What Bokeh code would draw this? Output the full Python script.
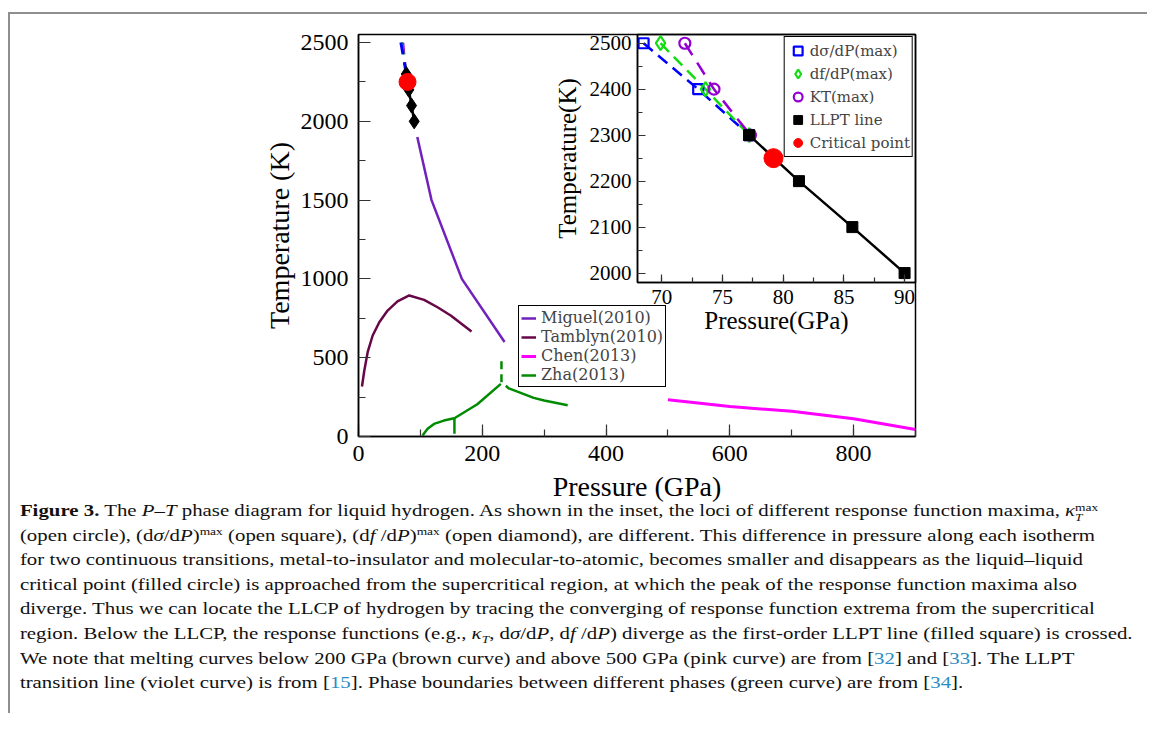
from bokeh.plotting import figure
from bokeh.models import (GridBox, Column, Div, Legend, LegendItem,
                          SingleIntervalTicker, Range1d)
from bokeh.embed import file_html
from bokeh.resources import INLINE

FONT = "Liberation Serif"
LFONT = "DejaVu Serif"

# ---------------- data (main panel) ----------------
miguel_p = [95, 118, 167, 236]
miguel_t = [1900, 1500, 1000, 600]

tamblyn_p = [5.6, 9.4, 14.8, 22.9, 33.6, 47, 63, 82, 106, 127.7, 149, 182.6]
tamblyn_t = [317, 419, 535, 641, 725, 799, 858, 895, 867, 820, 768, 666]

chen_p = [500, 600, 700, 800, 900]
chen_t = [233, 190, 160, 112, 45]

zha1_p = [103.5, 111.6, 122, 138, 154.5]
zha1_t = [6, 49, 80, 101, 116]
zha2_p = [155, 155]
zha2_t = [18, 120]
zha3_p = [155, 192, 230]
zha3_t = [116, 205, 334]
zha4_p = [231, 231]
zha4_t = [345, 505]
zha5_p = [238, 243, 260, 283, 300, 338]
zha5_t = [322, 305, 280, 245, 228, 198]

# ---------------- data (inset) ----------------
ds_p = [68.5, 73.0, 77.2]
ds_t = [2500, 2400, 2300]
df_p = [69.9, 73.6, 77.2]
df_t = [2500, 2400, 2300]
kt_p = [71.9, 74.3, 77.3]
kt_t = [2500, 2400, 2300]
llpt_p = [77.2, 81.3, 85.7, 90.0]
llpt_t = [2300, 2200, 2100, 2000]
cp_p = [79.2]
cp_t = [2250]

C_MIG = "#7221bc"
C_TAM = "#670748"
C_CHEN = "#ff00ff"
C_ZHA = "#008b00"
C_BLUE = "#0000ff"
C_GREEN = "#11dd11"
C_VIOLET = "#9400d3"


def style(p, tick_size, label_size, maj_in, min_in):
    for ax in p.axis:
        ax.axis_line_width = 1.5
        ax.axis_line_color = "black"
        ax.major_tick_in = maj_in
        ax.major_tick_out = 0
        ax.minor_tick_in = min_in
        ax.minor_tick_out = 0
        ax.major_tick_line_color = "#333333"
        ax.minor_tick_line_color = "#333333"
        ax.major_tick_line_width = 1.2
        ax.minor_tick_line_width = 1.2
        ax.major_label_text_font = FONT
        ax.major_label_text_font_size = tick_size
        ax.major_label_text_color = "black"
        ax.axis_label_text_font = FONT
        ax.axis_label_text_font_size = label_size
        ax.axis_label_text_font_style = "normal"
        ax.axis_label_text_color = "black"
    p.grid.visible = False
    p.outline_line_color = "black"
    p.outline_line_width = 1.5
    p.outline_line_alpha = 1


# ---------------- main figure ----------------
main = figure(width=916, height=502, x_range=Range1d(0, 900), y_range=Range1d(0, 2551),
              output_backend="svg", toolbar_location=None,
              min_border_left=348, min_border_right=10, min_border_top=20, min_border_bottom=80)
main.xaxis.ticker = SingleIntervalTicker(interval=200, num_minor_ticks=2)
main.yaxis.ticker = SingleIntervalTicker(interval=500, num_minor_ticks=2)
main.xaxis.axis_label = "Pressure (GPa)"
main.yaxis.axis_label = "Temperature (K)"
style(main, "24px", "28px", 12, 7)
main.xaxis.major_label_standoff = 9
main.xaxis.axis_label_standoff = 7
main.yaxis.major_label_standoff = 10
main.yaxis.axis_label_standoff = 3

r_mig = main.line(miguel_p, miguel_t, line_color=C_MIG, line_width=2.5)
r_tam = main.line(tamblyn_p, tamblyn_t, line_color=C_TAM, line_width=2.5)
r_chen = main.line(chen_p, chen_t, line_color=C_CHEN, line_width=3)
r_zha = main.line(zha1_p, zha1_t, line_color=C_ZHA, line_width=2.5)
main.line(zha2_p, zha2_t, line_color=C_ZHA, line_width=2.5)
main.line(zha3_p, zha3_t, line_color=C_ZHA, line_width=2.5)
main.line(zha4_p, zha4_t, line_color=C_ZHA, line_width=2.5, line_dash="8 5")
main.line(zha5_p, zha5_t, line_color=C_ZHA, line_width=2.5)

main.line(kt_p, kt_t, line_color=C_VIOLET, line_width=2.5, line_dash="12 8")
main.line(df_p, df_t, line_color=C_GREEN, line_width=2.5, line_dash="12 8")
main.line(ds_p, ds_t, line_color=C_BLUE, line_width=3, line_dash="12 8")
main.line(llpt_p, llpt_t, line_color="black", line_width=2.5)
main.scatter(llpt_p, llpt_t, marker="diamond", size=15, fill_color="black", line_color="black")
main.scatter(cp_p, cp_t, marker="circle", size=17, fill_color="#ff0000", line_color="#ff0000")

leg = Legend(items=[LegendItem(label="Miguel(2010)", renderers=[r_mig]),
                    LegendItem(label="Tamblyn(2010)", renderers=[r_tam]),
                    LegendItem(label="Chen(2013)", renderers=[r_chen]),
                    LegendItem(label="Zha(2013)", renderers=[r_zha])],
             location=(160, 49), label_text_font=LFONT, label_text_font_size="16px",
             glyph_width=15, glyph_height=18, label_height=18, spacing=0, padding=2,
             label_standoff=5, border_line_color="black", border_line_width=1.5,
             border_line_alpha=1, background_fill_alpha=1, margin=0)
main.add_layout(leg)

# ---------------- inset ----------------
inset = figure(width=378, height=326, x_range=Range1d(68.0, 90.9), y_range=Range1d(1979.5, 2519),
               output_backend="svg", toolbar_location=None,
               min_border_left=89, min_border_right=11, min_border_top=20, min_border_bottom=58)
inset.background_fill_alpha = 0
inset.border_fill_alpha = 0
inset.xaxis.ticker = SingleIntervalTicker(interval=5, num_minor_ticks=2)
inset.yaxis.ticker = SingleIntervalTicker(interval=100, num_minor_ticks=2)
inset.xaxis.axis_label = "Pressure(GPa)"
inset.yaxis.axis_label = "Temperature(K)"
style(inset, "21px", "25px", 8, 5)
inset.xaxis.major_label_standoff = 7
inset.xaxis.axis_label_standoff = 0
inset.yaxis.major_label_standoff = 6
inset.yaxis.axis_label_standoff = 6

inset.line(ds_p, ds_t, line_color=C_BLUE, line_width=2.5, line_dash="12 7")
inset.line(df_p, df_t, line_color=C_GREEN, line_width=2.5, line_dash="12 7")
inset.line(kt_p, kt_t, line_color=C_VIOLET, line_width=2.5, line_dash="14 9")
inset.line(llpt_p, llpt_t, line_color="black", line_width=2.5)
s_ds = inset.scatter(ds_p, ds_t, marker="square", size=10, fill_color=None, line_color=C_BLUE, line_width=2.2)
s_df = inset.scatter(df_p, df_t, marker="diamond", size=14, fill_color=None, line_color=C_GREEN, line_width=2.2)
s_kt = inset.scatter(kt_p, kt_t, marker="circle", size=11, fill_color=None, line_color=C_VIOLET, line_width=2.2)
s_ll = inset.scatter(llpt_p, llpt_t, marker="square", size=11, fill_color="black", line_color="black")
s_cp = inset.scatter(cp_p, cp_t, marker="circle", size=19, fill_color="#ff0000", line_color="#ff0000")

leg2 = Legend(items=[LegendItem(label="d\u03c3/dP(max)", renderers=[s_ds]),
                     LegendItem(label="df/dP(max)", renderers=[s_df]),
                     LegendItem(label="KT(max)", renderers=[s_kt]),
                     LegendItem(label="LLPT line", renderers=[s_ll]),
                     LegendItem(label="Critical point", renderers=[s_cp])],
              location="top_right", label_text_font=LFONT, label_text_font_size="15px",
              glyph_width=22, glyph_height=23, label_height=23, spacing=0, padding=2,
              label_standoff=1, border_line_color="black", border_line_width=1.5,
              border_line_alpha=1, background_fill_alpha=1, margin=2)
inset.add_layout(leg2)

# ---------------- caption ----------------
REF = "color:#2b8cc4"
SUP = "font-size:11px;line-height:0;vertical-align:6px"
kappa_stack = ("<i>\u03ba</i><span style='display:inline-block;vertical-align:-5px;"
               "line-height:10px;font-size:11px'>max<br><i>T</i></span>")
lines = [
    "<b>Figure 3.</b> The <i>P</i>\u2013<i>T</i> phase diagram for liquid hydrogen. As shown in the inset, "
    "the loci of different response function maxima, " + kappa_stack,
    "(open circle), (d<i>\u03c3</i>/d<i>P</i>)<span style='" + SUP + "'>max</span> (open square), "
    "(d<i>f</i> /d<i>P</i>)<span style='" + SUP + "'>max</span> (open diamond), are different. "
    "This difference in pressure along each isotherm",
    "for two continuous transitions, metal-to-insulator and molecular-to-atomic, becomes smaller "
    "and disappears as the liquid\u2013liquid",
    "critical point (filled circle) is approached from the supercritical region, at which the peak "
    "of the response function maxima also",
    "diverge. Thus we can locate the LLCP of hydrogen by tracing the converging of response function "
    "extrema from the supercritical",
    "region. Below the LLCP, the response functions (e.g., <i>\u03ba<sub style='font-size:11px;line-height:0'>T</sub></i>, "
    "d<i>\u03c3</i>/d<i>P</i>, d<i>f</i> /d<i>P</i>) diverge as the first-order LLPT line "
    "(filled square) is crossed.",
    "We note that melting curves below 200 GPa (brown curve) and above 500 GPa (pink curve) are from "
    "[<span style='" + REF + "'>32</span>] and [<span style='" + REF + "'>33</span>]. The LLPT",
    "transition line (violet curve) is from [<span style='" + REF + "'>15</span>]. Phase boundaries "
    "between different phases (green curve) are from [<span style='" + REF + "'>34</span>].",
]
html = ("<div style='font-family:\"Liberation Serif\";font-size:17px;line-height:24.6px;"
        "white-space:nowrap;padding-left:4px;margin-top:-4px;color:#111;transform:scaleX(1.225);"
        "transform-origin:0 0'>" + "<br>".join(lines) + "</div>")
cap = Div(text=html, width=1130, height=205)

grid = GridBox(children=[(main, 0, 0, 3, 2), (inset, 0, 1, 1, 1), (cap, 2, 0, 2, 3)],
               cols=["538px", "378px", "221px"], rows=["326px", "158px", "18px", "auto"])

root = Column(children=[grid], margin=(12, 0, 0, 8),
              styles={"border-top": "2px solid #8f8f8f", "border-left": "2px solid #8f8f8f"})

open("out.html", "w").write(file_html(root, INLINE))
